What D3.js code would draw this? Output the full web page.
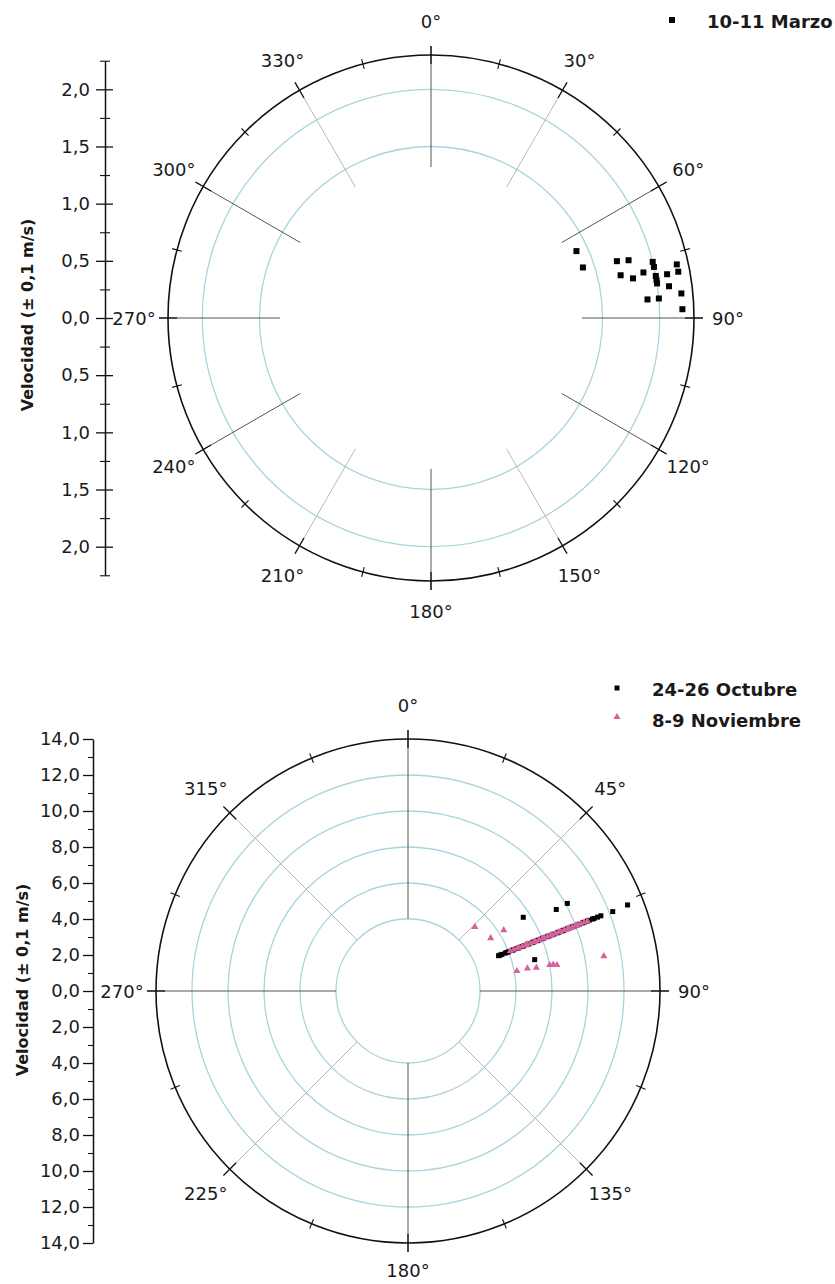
<!DOCTYPE html>
<html>
<head>
<meta charset="utf-8">
<script src="https://cdn.jsdelivr.net/npm/d3@7"></script>
<style>
  body { margin: 0; background: #fff; }
  text { font-family: "DejaVu Sans", sans-serif; fill: #1a1a1a; }
</style>
</head>
<body>
<script>
"use strict";
// 10-11 Marzo: direction (deg) and speed (m/s)
const marzoAngle = [65.3, 71.6, 73.0, 73.7, 77.3, 78.9, 77.9, 75.8, 77.1, 79.4,
                    80.4, 81.3, 79.5, 82.4, 77.7, 79.4, 84.4, 85.1, 85.1, 88.0];
const marzoVel   = [1.4, 1.4, 1.7, 1.8, 1.7, 1.8, 1.9, 2.0, 2.0, 2.0,
                    2.0, 2.0, 2.1, 2.1, 2.2, 2.2, 2.2, 1.9, 2.0, 2.2];

// 24-26 Octubre
const octubreAngle = [57.4, 61.2, 61.2, 76.1,
  68.7, 68.7, 68.7, 68.7, 68.7, 68.7, 68.7, 68.7, 68.7, 68.7, 68.7, 68.7, 68.7, 68.7, 68.7,
  68.7, 68.7, 68.7, 68.7, 68.7, 68.7, 68.7, 68.7, 68.7, 68.7, 68.7, 68.7, 68.7, 68.7, 68.7,
  68.7, 68.7, 68.7, 68.7, 68.7, 68.7, 68.7, 68.7, 68.7, 68.7, 68.7, 68.7, 68.8, 68.6];
const octubreVel = [7.6, 9.4, 10.1, 7.25,
  5.4, 5.5, 5.6, 5.8, 5.9, 6.0, 6.2, 6.3, 6.5, 6.6, 6.8, 6.9, 7.1, 7.2, 7.4,
  7.5, 7.7, 7.8, 8.0, 8.1, 8.3, 8.4, 8.6, 8.7, 8.9, 9.0, 9.2, 9.3, 9.5, 9.6,
  9.8, 9.9, 10.1, 10.2, 10.4, 10.5, 10.7, 10.8, 11.0, 11.1, 11.3, 11.5, 12.2, 13.1];

// 8-9 Noviembre
const noviembreAngle = [46.2, 57.4, 57.6, 79.6, 79.3, 79.7, 79.6, 79.7, 80.1, 79.9,
  68.7, 68.7, 68.7, 68.7, 68.7, 68.7, 68.7, 68.7, 68.7, 68.7, 68.7, 68.7, 68.7, 68.7,
  68.7, 68.7, 68.7, 68.7, 68.7, 68.7, 68.7, 68.7, 68.7, 68.7, 68.7, 68.7, 68.7, 68.7];
const noviembreVel = [5.15, 5.45, 6.3, 6.15, 6.75, 7.25, 8.0, 8.2, 8.4, 11.05,
  6.1, 6.3, 6.5, 6.6, 6.8, 7.0, 7.1, 7.3, 7.5, 7.6, 7.8, 8.0, 8.1, 8.3,
  8.5, 8.6, 8.8, 9.0, 9.1, 9.3, 9.5, 9.6, 9.8, 10.0, 10.1, 10.3, 10.5, 10.7];

const topTicks = [-2.0, -1.5, -1.0, -0.5, 0, 0.5, 1.0, 1.5, 2.0];
const topMinor = [-2.25, -1.75, -1.25, -0.75, -0.25, 0.25, 0.75, 1.25, 1.75, 2.25];
const botTicks = [-14, -12, -10, -8, -6, -4, -2, 0, 2, 4, 6, 8, 10, 12, 14];
const botMinor = [-13, -11, -9, -7, -5, -3, -1, 1, 3, 5, 7, 9, 11, 13];

const yTitle = "Velocidad (± 0,1 m/s)";

const svg = d3.select("body").append("svg")
    .attr("width", 835).attr("height", 1284);
svg.append("rect").attr("width", 835).attr("height", 1284).attr("fill", "#fff");

const fmt = d => Math.abs(d).toFixed(1).replace(".", ",");

function polar(opt){
    const g = svg.append("g").attr("transform", `translate(${opt.cx},${opt.cy})`);
    const r = d3.scaleLinear().domain([0, opt.rMax]).range([0, opt.R]);
    const ang = d3.scaleLinear().domain([0, 360]).range([0, 2 * Math.PI]);
    const X = (a, rr) => rr * Math.sin(ang(a));
    const Y = (a, rr) => -rr * Math.cos(ang(a));

    // rings
    g.selectAll(".ring").data(opt.rings).join("circle")
        .attr("r", d => r(d)).attr("fill", "none")
        .attr("stroke", "#aad4dd").attr("stroke-width", 1.3);

    // spokes
    g.selectAll(".spoke").data(opt.spokes).join("line")
        .attr("x1", d => X(d, r(opt.spokeStart))).attr("y1", d => Y(d, r(opt.spokeStart)))
        .attr("x2", d => X(d, opt.R + 9)).attr("y2", d => Y(d, opt.R + 9))
        .attr("stroke", d => opt.light.includes(d) ? "#b8b8b8" : "#555")
        .attr("stroke-width", 1);

    // outer circle
    g.append("circle").attr("r", opt.R).attr("fill", "none")
        .attr("stroke", "#111").attr("stroke-width", 1.6);

    // ticks on the rim
    g.selectAll(".maj").data(opt.spokes).join("line")
        .attr("x1", d => X(d, opt.R - 9)).attr("y1", d => Y(d, opt.R - 9))
        .attr("x2", d => X(d, opt.R + 9)).attr("y2", d => Y(d, opt.R + 9))
        .attr("stroke", "#111").attr("stroke-width", 1.3);
    g.selectAll(".min").data(opt.minorAngles).join("line")
        .attr("x1", d => X(d, opt.R - 5)).attr("y1", d => Y(d, opt.R - 5))
        .attr("x2", d => X(d, opt.R + 5)).attr("y2", d => Y(d, opt.R + 5))
        .attr("stroke", "#111").attr("stroke-width", 1.1);

    // angle labels
    g.selectAll(".alab").data(opt.spokes).join("text")
        .attr("x", d => X(d, opt.R + 34))
        .attr("y", d => Y(d, opt.R + (d === 180 ? opt.bottomLab : 34)))
        .attr("text-anchor", "middle").attr("dominant-baseline", "central")
        .style("font-size", "18px")
        .text(d => d + "°");

    // radial axis on the left
    const yAx = d3.scaleLinear().domain([opt.axMax, -opt.axMax])
        .range([opt.cy - r(opt.axMax), opt.cy + r(opt.axMax)]);
    const ax = svg.append("g").attr("transform", `translate(${opt.axX},0)`)
        .call(d3.axisLeft(yAx).tickValues(opt.ticks).tickFormat(fmt)
            .tickSize(opt.tickLen).tickPadding(opt.pad).tickSizeOuter(0));
    ax.select(".domain").attr("stroke", "#111").attr("stroke-width", 1.5);
    ax.selectAll(".tick line").attr("stroke", "#111").attr("stroke-width", 1.3)
        .attr("x1", opt.cross ? opt.tickLen - 1 : 0);
    ax.selectAll(".tick text").style("font-size", "18px")
        .style("font-family", "DejaVu Sans").attr("fill", "#1a1a1a");
    const axm = svg.append("g").attr("transform", `translate(${opt.axX},0)`)
        .call(d3.axisLeft(yAx).tickValues(opt.minor).tickFormat("")
            .tickSize(opt.minorLen).tickSizeOuter(0));
    axm.select(".domain").remove();
    axm.selectAll(".tick line").attr("stroke", "#111").attr("stroke-width", 1.1)
        .attr("x1", opt.cross ? opt.minorLen : 0);

    svg.append("text")
        .attr("transform", `translate(${opt.titleX},${opt.titleY}) rotate(-90)`)
        .attr("text-anchor", "middle").attr("dominant-baseline", "central")
        .style("font-size", "16px").style("font-weight", "bold")
        .text(yTitle);

    return {g, X, Y, r};
}

// ---- top chart
const chartA = polar({
    cx: 431, cy: 318, R: 263, rMax: 2.3,
    rings: [1.5, 2.0], spokes: d3.range(0, 360, 30),
    minorAngles: d3.range(15, 360, 30), light: [30, 150, 210, 330],
    spokeStart: 1.32, axMax: 2.25, axX: 105, bottomLab: 30,
    ticks: topTicks, minor: topMinor, tickLen: 9, minorLen: 5, pad: 6, cross: true,
    titleX: 27, titleY: 315
});
chartA.g.selectAll(".m").data(marzoAngle).join("rect")
    .attr("x", (d, i) => chartA.X(d, chartA.r(marzoVel[i])) - 3)
    .attr("y", (d, i) => chartA.Y(d, chartA.r(marzoVel[i])) - 3)
    .attr("width", 6).attr("height", 6).attr("fill", "#000");

svg.append("rect").attr("x", 669).attr("y", 17).attr("width", 6).attr("height", 6).attr("fill", "#000");
svg.append("text").attr("x", 707).attr("y", 28).style("font-size", "18px")
    .style("font-weight", "bold").text("10-11 Marzo");

// ---- bottom chart
const chartB = polar({
    cx: 408, cy: 991, R: 252, rMax: 14,
    rings: [4, 6, 8, 10, 12], spokes: d3.range(0, 360, 45),
    minorAngles: d3.range(22.5, 360, 45), light: [45, 135, 225, 315],
    spokeStart: 4, axMax: 14, axX: 93, bottomLab: 27,
    ticks: botTicks, minor: botMinor, tickLen: 10, minorLen: 5, pad: 3, cross: false,
    titleX: 22, titleY: 980
});
chartB.g.selectAll(".o").data(octubreAngle).join("rect")
    .attr("x", (d, i) => chartB.X(d, chartB.r(octubreVel[i])) - 2.5)
    .attr("y", (d, i) => chartB.Y(d, chartB.r(octubreVel[i])) - 2.5)
    .attr("width", 5).attr("height", 5).attr("fill", "#000");
const tri = d3.symbol().type(d3.symbolTriangle).size(22);
chartB.g.selectAll(".n").data(noviembreAngle).join("path")
    .attr("d", tri)
    .attr("transform", (d, i) =>
        `translate(${chartB.X(d, chartB.r(noviembreVel[i]))},${chartB.Y(d, chartB.r(noviembreVel[i]))})`)
    .attr("fill", "#d5629e");

svg.append("rect").attr("x", 614.5).attr("y", 685.5).attr("width", 5).attr("height", 5).attr("fill", "#000");
svg.append("text").attr("x", 652).attr("y", 696).style("font-size", "18px")
    .style("font-weight", "bold").text("24-26 Octubre");
svg.append("path").attr("d", tri).attr("transform", "translate(617,717)").attr("fill", "#d5629e");
svg.append("text").attr("x", 652).attr("y", 727).style("font-size", "18px")
    .style("font-weight", "bold").text("8-9 Noviembre");
</script>
</body>
</html>
